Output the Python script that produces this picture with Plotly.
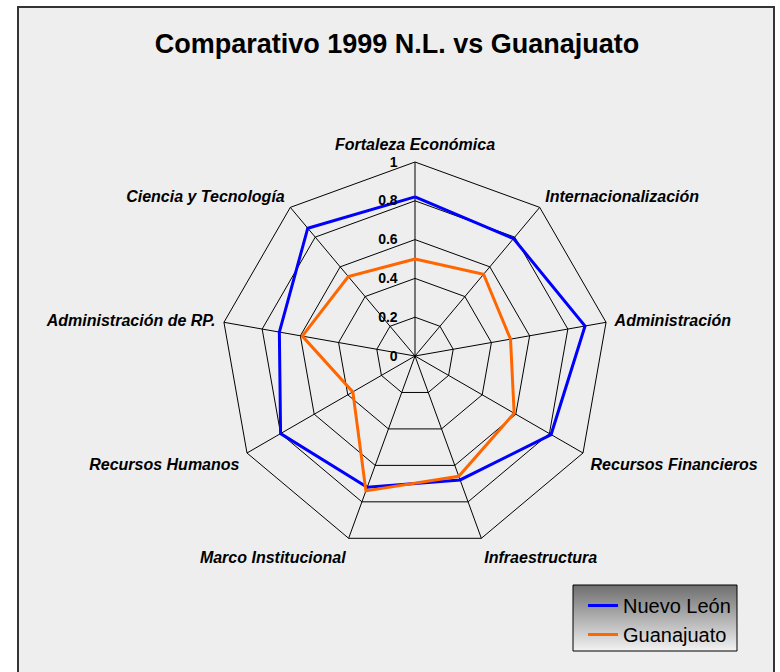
import plotly.graph_objects as go

# Datos (índice 0-1)
categorias = [
    "Fortaleza Económica",
    "Internacionalización",
    "Administración",
    "Recursos Financieros",
    "Infraestructura",
    "Marco Institucional",
    "Recursos Humanos",
    "Administración de RP.",
    "Ciencia y Tecnología",
]
nuevo_leon = [0.82, 0.79, 0.89, 0.81, 0.68, 0.72, 0.80, 0.71, 0.86]
guanajuato = [0.50, 0.55, 0.50, 0.59, 0.66, 0.74, 0.37, 0.59, 0.535]
radial_ticks = [0, 0.2, 0.4, 0.6, 0.8, 1]

W, H = 780, 672
FONT = "Liberation Sans, Arial, sans-serif"


def closed(vals):
    return list(vals) + [vals[0]]


fig = go.Figure()

fig.add_trace(go.Scatterpolar(
    r=closed(nuevo_leon), theta=closed(categorias), mode="lines",
    name="Nuevo León", line=dict(color="#0000FF", width=3),
))
fig.add_trace(go.Scatterpolar(
    r=closed(guanajuato), theta=closed(categorias), mode="lines",
    name="Guanajuato", line=dict(color="#FF6600", width=3),
))

# legend box with the grey gradient, drawn on a hidden paper-sized xy axis
lx0, lx1, ly0, ly1 = 573, 737, 585, 651
fig.add_trace(go.Scatter(
    x=[lx0, lx1, lx1, lx0, lx0], y=[ly0, ly0, ly1, ly1, ly0],
    fill="toself", mode="lines", line=dict(color="#000", width=1),
    fillgradient=dict(type="vertical", colorscale=[[0, "#f2f2f2"], [1, "#6e6e6e"]]),
    showlegend=False, hoverinfo="skip",
))

cx, cy, R = 415, 356, 194
fig.update_layout(
    width=W, height=H,
    margin=dict(l=0, r=0, t=0, b=0),
    paper_bgcolor="white",
    plot_bgcolor="rgba(0,0,0,0)",
    font=dict(family=FONT, color="#000"),
    title=dict(
        text="<b>Comparativo 1999 N.L. vs Guanajuato</b>",
        font=dict(size=27, family=FONT, color="#000"),
        x=397 / W, xanchor="center", y=1 - 44 / H, yanchor="middle",
    ),
    xaxis=dict(range=[0, W], domain=[0, 1], visible=False, fixedrange=True),
    yaxis=dict(range=[H, 0], domain=[0, 1], visible=False, fixedrange=True),
    polar=dict(
        domain=dict(x=[(cx - R) / W, (cx + R) / W], y=[1 - (cy + R) / H, 1 - (cy - R) / H]),
        bgcolor="rgba(0,0,0,0)",
        gridshape="linear",
        radialaxis=dict(
            range=[0, 1], tickvals=radial_ticks, ticktext=[f"{v:g}" for v in radial_ticks],
            angle=90, tickangle=90, side="counterclockwise",
            showline=False, ticks="outside", ticklen=12, tickcolor="rgba(0,0,0,0)",
            gridcolor="#000", gridwidth=1,
            tickfont=dict(size=14, family=FONT, color="#000", weight="bold"),
        ),
        angularaxis=dict(
            direction="clockwise", rotation=90,
            showline=True, linecolor="#000", linewidth=1,
            gridcolor="#000", gridwidth=1,
            ticks="outside", ticklen=5, tickcolor="rgba(0,0,0,0)",
            tickfont=dict(size=16, family=FONT, color="#000", weight="bold", style="italic"),
        ),
    ),
    showlegend=True,
    legend=dict(
        x=(lx0 + 10) / W, y=1 - (ly0 + 1) / H, xanchor="left", yanchor="top",
        bgcolor="rgba(0,0,0,0)", borderwidth=0,
        font=dict(size=20, family=FONT, color="#000"),
        itemwidth=30, tracegroupgap=0,
    ),
    shapes=[
        # chart area and frame
        dict(type="rect", xref="paper", yref="paper", layer="below",
             x0=18 / W, x1=774 / W, y0=-0.01, y1=1 - 7 / H,
             fillcolor="#eeeeee", line=dict(color="#333", width=2)),
    ],
)

fig.write_html("out.html", config={"displayModeBar": False},
               post_script="document.body.style.margin='0px';")
